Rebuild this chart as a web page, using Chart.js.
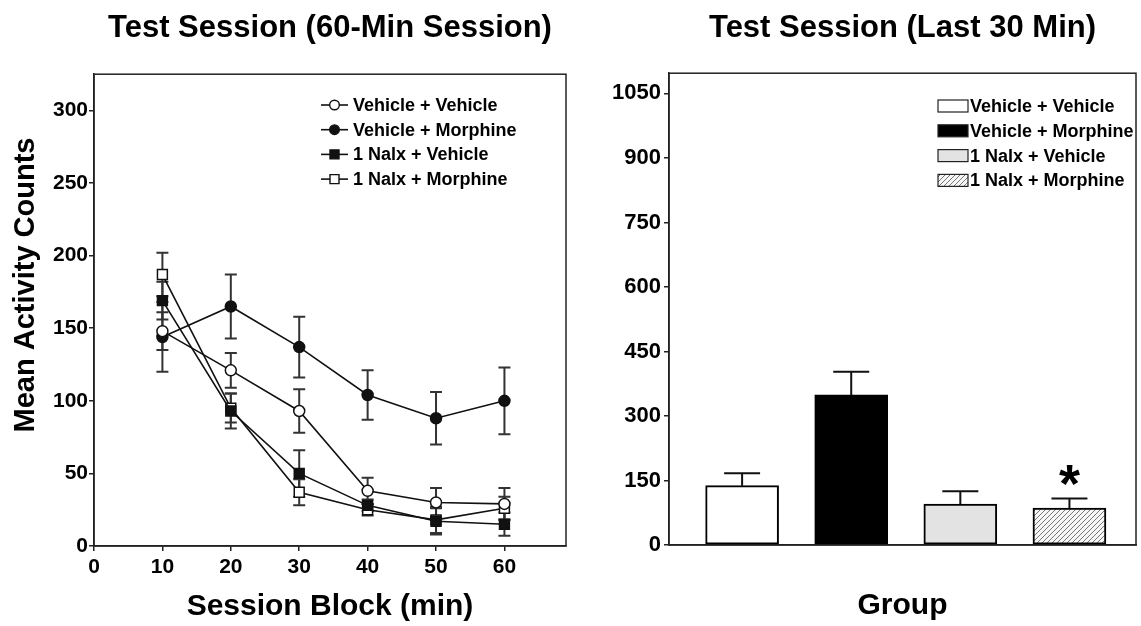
<!DOCTYPE html>
<html>
<head>
<meta charset="utf-8">
<title>Test Session</title>
<script src="https://cdn.jsdelivr.net/npm/chart.js@4.4.1/dist/chart.umd.min.js"></script>
<style>
  html, body { margin: 0; padding: 0; background: #fff; }
  #wrap { position: relative; width: 1141px; height: 626px; }
  canvas { position: absolute; top: 0; }
  #lineChart { left: 0; }
  #barChart { left: 600px; }
</style>
</head>
<body>
<div id="wrap">
  <canvas id="lineChart" width="600" height="626"></canvas>
  <canvas id="barChart" width="541" height="626"></canvas>
</div>
<script>
const FONT = '"Liberation Sans", Arial, Helvetica, sans-serif';

// left panel: mean activity per 10-min block (mean, SEM)
const blocks = [10, 20, 30, 40, 50, 60];
const vehVehMean = [148, 121, 93, 38, 30, 29];
const vehVehSem = [13, 12, 15, 9, 10, 11];
const vehMorMean = [144, 165, 137, 104, 88, 100];
const vehMorSem = [24, 22, 21, 17, 18, 23];
const nalVehMean = [169, 93, 50, 28, 17, 15];
const nalVehSem = [13, 12, 16, 4, 9, 8];
const nalMorMean = [187, 95, 37, 25, 18, 26];
const nalMorSem = [15, 10, 9, 4, 9, 8];
const countTicks = [0, 50, 100, 150, 200, 250, 300];
const blockTicks = [0, 10, 20, 30, 40, 50, 60];

// right panel: last 30 min
const groups = ['Vehicle + Vehicle', 'Vehicle + Morphine', '1 Nalx + Vehicle', '1 Nalx + Morphine'];
const groupMean = [138, 349, 95, 86];
const groupSem = [29, 54, 30, 22];
const groupSig = ['', '', '', '*'];
const barTicks = [0, 150, 300, 450, 600, 750, 900, 1050];

const INK = '#111';

function series(label, mean, sem, style, fill, radius) {
  return {
    label: label,
    data: blocks.map((b, i) => ({ x: b, y: mean[i] })),
    sem: sem,
    borderColor: INK,
    borderWidth: 1.6,
    backgroundColor: fill,
    pointStyle: style,
    pointRadius: radius,
    pointBorderWidth: 1.5,
    pointBorderColor: INK,
    pointBackgroundColor: fill,
    tension: 0
  };
}

// error bars for the line chart (both directions, behind markers)
const lineErrors = {
  id: 'lineErrors',
  beforeDatasetsDraw(chart) {
    const ctx = chart.ctx, xs = chart.scales.x, ys = chart.scales.y;
    ctx.save();
    ctx.strokeStyle = '#333';
    ctx.lineWidth = 2;
    chart.data.datasets.forEach(ds => {
      ds.data.forEach((p, i) => {
        const x = xs.getPixelForValue(p.x);
        const y1 = ys.getPixelForValue(p.y - ds.sem[i]);
        const y2 = ys.getPixelForValue(p.y + ds.sem[i]);
        ctx.beginPath();
        ctx.moveTo(x, y1); ctx.lineTo(x, y2);
        ctx.moveTo(x - 6, y1); ctx.lineTo(x + 6, y1);
        ctx.moveTo(x - 6, y2); ctx.lineTo(x + 6, y2);
        ctx.stroke();
      });
    });
    ctx.restore();
  }
};

// error bars for bars (upward only) + significance mark
const barErrors = {
  id: 'barErrors',
  afterDatasetsDraw(chart) {
    const ctx = chart.ctx, xs = chart.scales.x, ys = chart.scales.y;
    const ds = chart.data.datasets[0];
    ctx.save();
    ctx.strokeStyle = '#111';
    ctx.lineWidth = 2;
    ds.data.forEach((p, i) => {
      const x = xs.getPixelForValue(p.x);
      const y1 = ys.getPixelForValue(p.y);
      const y2 = ys.getPixelForValue(p.y + ds.sem[i]);
      ctx.beginPath();
      ctx.moveTo(x, y1); ctx.lineTo(x, y2);
      ctx.moveTo(x - 18, y2); ctx.lineTo(x + 18, y2);
      ctx.stroke();
      if (groupSig[i]) {
        ctx.fillStyle = '#000';
        ctx.font = 'bold 54px ' + FONT;
        ctx.textAlign = 'center';
        ctx.textBaseline = 'alphabetic';
        ctx.fillText(groupSig[i], x, y2 + 3);
      }
    });
    ctx.restore();
  }
};

const frame = {
  id: 'frame',
  afterDraw(chart) {
    const a = chart.chartArea, ctx = chart.ctx;
    ctx.save();
    ctx.strokeStyle = '#222';
    ctx.lineWidth = 1.5;
    ctx.strokeRect(a.left, a.top, a.right - a.left, a.bottom - a.top);
    ctx.restore();
  }
};

const lineLegend = {
  id: 'lineLegend',
  afterDraw(chart) {
    const ctx = chart.ctx;
    ctx.save();
    ctx.font = 'bold 18px ' + FONT;
    ctx.textBaseline = 'middle';
    ctx.textAlign = 'left';
    chart.data.datasets.forEach((ds, i) => {
      const y = 105 + i * 24.7;
      ctx.strokeStyle = INK;
      ctx.lineWidth = 1.6;
      ctx.beginPath();
      ctx.moveTo(321, y); ctx.lineTo(348, y);
      ctx.stroke();
      ctx.fillStyle = ds.pointBackgroundColor;
      ctx.lineWidth = 1.4;
      ctx.beginPath();
      if (ds.pointStyle === 'circle') {
        ctx.arc(334.5, y, 4.8, 0, Math.PI * 2);
      } else {
        ctx.rect(330, y - 4.5, 9, 9);
      }
      ctx.fill();
      ctx.stroke();
      ctx.fillStyle = '#000';
      ctx.fillText(ds.label, 353, y + 1);
    });
    ctx.restore();
  }
};

const yTitle = {
  id: 'yTitle',
  afterDraw(chart, args, opts) {
    const ctx = chart.ctx;
    ctx.save();
    ctx.translate(opts.x, opts.y);
    ctx.rotate(-Math.PI / 2);
    ctx.font = 'bold 29px ' + FONT;
    ctx.fillStyle = '#000';
    ctx.textAlign = 'center';
    ctx.textBaseline = 'middle';
    ctx.fillText(opts.text, 0, 0);
    ctx.restore();
  }
};

function tickFont(size) {
  return { family: FONT, size: size, weight: 'bold' };
}

new Chart(document.getElementById('lineChart'), {
  type: 'line',
  data: {
    datasets: [
      series('Vehicle + Vehicle', vehVehMean, vehVehSem, 'circle', '#fff', 5.5),
      series('Vehicle + Morphine', vehMorMean, vehMorSem, 'circle', INK, 5.5),
      series('1 Nalx + Vehicle', nalVehMean, nalVehSem, 'rect', INK, 7),
      series('1 Nalx + Morphine', nalMorMean, nalMorSem, 'rect', '#fff', 7)
    ]
  },
  plugins: [lineErrors, frame, lineLegend, yTitle],
  options: {
    responsive: false,
    animation: false,
    layout: { padding: { left: 0, right: 34, top: 0, bottom: 0 } },
    plugins: {
      legend: { display: false },
      tooltip: { enabled: false },
      title: {
        display: true,
        text: 'Test Session (60-Min Session)',
        fullSize: false,
        color: '#000',
        font: { family: FONT, size: 31, weight: 'bold' },
        padding: { top: 10, bottom: 27 }
      },
      yTitle: { text: 'Mean Activity Counts', x: 26, y: 285 }
    },
    scales: {
      x: {
        type: 'linear',
        min: 0,
        max: 69,
        afterFit(s) { s.height = 80; },
        afterBuildTicks(s) { s.ticks = blockTicks.map(v => ({ value: v })); },
        grid: { display: true, drawOnChartArea: false, drawTicks: true, tickLength: 5, color: '#222', lineWidth: 1.5 },
        border: { display: true, color: '#222', width: 1.5 },
        ticks: { color: '#000', font: tickFont(21), padding: 4, maxRotation: 0, autoSkip: false, callback: v => String(v) },
        title: {
          display: true,
          text: 'Session Block (min)',
          color: '#000',
          font: { family: FONT, size: 30, weight: 'bold' },
          padding: { top: 0, bottom: 1 }
        }
      },
      y: {
        min: 0,
        max: 325,
        afterFit(s) { s.width = 94; },
        afterBuildTicks(s) { s.ticks = countTicks.map(v => ({ value: v })); },
        grid: { display: true, drawOnChartArea: false, drawTicks: true, tickLength: 5, color: '#222', lineWidth: 1.5 },
        border: { display: true, color: '#222', width: 1.5 },
        ticks: { color: '#000', font: tickFont(21), padding: 1, callback: v => String(v) }
      }
    }
  }
});

// hatch fill for the last bar
const barCtx = document.getElementById('barChart').getContext('2d');
const hatchCanvas = document.createElement('canvas');
hatchCanvas.width = 5;
hatchCanvas.height = 5;
const hc = hatchCanvas.getContext('2d');
hc.fillStyle = '#f6f6f6';
hc.fillRect(0, 0, 5, 5);
hc.strokeStyle = '#777';
hc.lineWidth = 1;
hc.beginPath();
hc.moveTo(0, 5); hc.lineTo(5, 0);
hc.moveTo(-1, 1); hc.lineTo(1, -1);
hc.moveTo(4, 6); hc.lineTo(6, 4);
hc.stroke();
const hatch = barCtx.createPattern(hatchCanvas, 'repeat');

const barFills = ['#fff', '#000', '#e3e3e3', hatch];

const barLegend = {
  id: 'barLegend',
  afterDraw(chart) {
    const ctx = chart.ctx;
    ctx.save();
    ctx.font = 'bold 18px ' + FONT;
    ctx.textBaseline = 'middle';
    ctx.textAlign = 'left';
    groups.forEach((g, i) => {
      const y = 106 + i * 24.8;
      ctx.fillStyle = barFills[i];
      ctx.fillRect(338, y - 6, 30, 12);
      ctx.strokeStyle = '#222';
      ctx.lineWidth = 1.2;
      ctx.strokeRect(338, y - 6, 30, 12);
      ctx.fillStyle = '#000';
      ctx.fillText(g, 370, y + 1);
    });
    ctx.restore();
  }
};

new Chart(barCtx, {
  type: 'bar',
  data: {
    datasets: [{
      label: 'Last 30 Min',
      data: groups.map((g, i) => ({ x: i + 1, y: groupMean[i] })),
      sem: groupSem,
      backgroundColor: barFills,
      borderColor: '#000',
      borderWidth: 2,
      borderSkipped: false,
      barThickness: 73
    }]
  },
  plugins: [frame, barErrors, barLegend],
  options: {
    responsive: false,
    animation: false,
    layout: { padding: { left: 0, right: 5, top: 0, bottom: 0 } },
    plugins: {
      legend: { display: false },
      tooltip: { enabled: false },
      title: {
        display: true,
        text: 'Test Session (Last 30 Min)',
        fullSize: false,
        color: '#000',
        font: { family: FONT, size: 31, weight: 'bold' },
        padding: { top: 10, bottom: 26 }
      }
    },
    scales: {
      x: {
        type: 'linear',
        min: 0.33,
        max: 4.61,
        offset: false,
        afterFit(s) { s.height = 81; },
        grid: { display: false },
        border: { display: true, color: '#222', width: 1.5 },
        ticks: { display: false },
        title: {
          display: true,
          text: 'Group',
          color: '#000',
          font: { family: FONT, size: 30, weight: 'bold' },
          padding: { top: 0, bottom: 2 }
        }
      },
      y: {
        min: 0,
        max: 1097,
        afterFit(s) { s.width = 69; },
        afterBuildTicks(s) { s.ticks = barTicks.map(v => ({ value: v })); },
        grid: { display: true, drawOnChartArea: false, drawTicks: true, tickLength: 5, color: '#222', lineWidth: 1.5 },
        border: { display: true, color: '#222', width: 1.5 },
        ticks: { color: '#000', font: tickFont(22), padding: 3, callback: v => String(v) }
      }
    }
  }
});
</script>
</body>
</html>
